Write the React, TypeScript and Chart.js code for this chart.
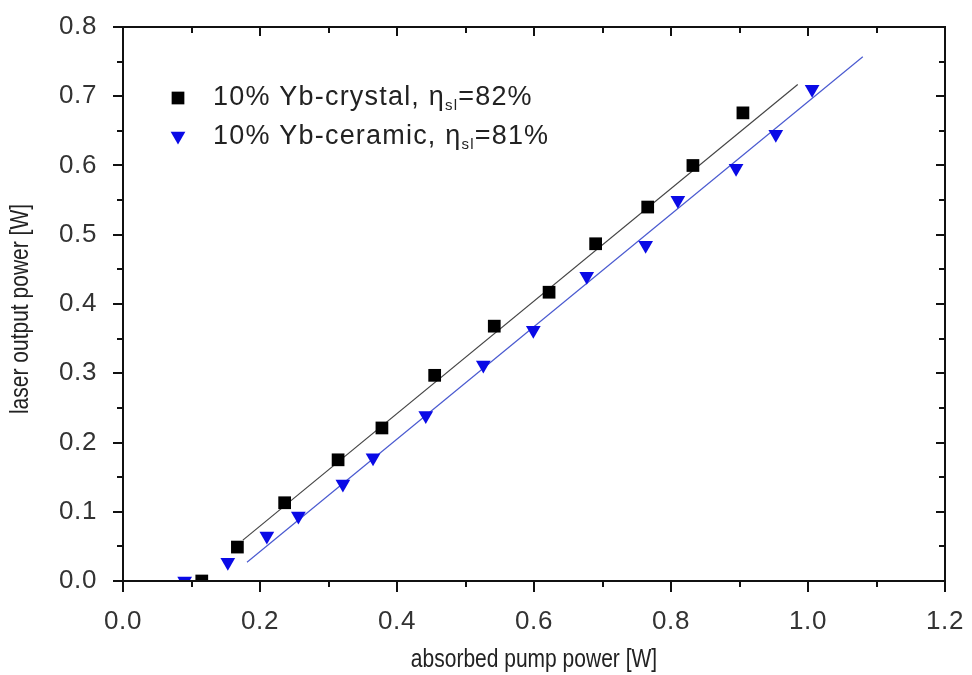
import React, { useEffect, useRef } from "react";
import { Chart, registerables } from "chart.js";

Chart.register(...registerables);

// ---- data ----
const crystalX = [0.115, 0.167, 0.236, 0.314, 0.378, 0.455, 0.542, 0.622, 0.69, 0.766, 0.832, 0.905];
const crystalY = [0.0, 0.049, 0.113, 0.175, 0.221, 0.297, 0.368, 0.417, 0.487, 0.54, 0.6, 0.676];

const ceramicX = [0.09, 0.153, 0.21, 0.256, 0.321, 0.365, 0.442, 0.526, 0.599, 0.677, 0.763, 0.81, 0.895, 0.953, 1.006];
const ceramicY = [0.0, 0.027, 0.065, 0.094, 0.14, 0.178, 0.239, 0.312, 0.362, 0.44, 0.485, 0.55, 0.596, 0.645, 0.71];

const crystalFitX = [0.175, 0.985];
const crystalFitY = [0.059, 0.717];
const ceramicFitX = [0.181, 1.08];
const ceramicFitY = [0.027, 0.757];

const crystalLabel = ["10% Yb-crystal, η", "sl", "=82%"];
const ceramicLabel = ["10% Yb-ceramic, η", "sl", "=81%"];

const xTitle = "absorbed pump power [W]";
const yTitle = "laser output power [W]";

const xMin = 0, xMax = 1.2, xMajor = 0.2, xMinor = 0.1;
const yMin = 0, yMax = 0.8, yMajor = 0.1, yMinor = 0.05;

function zip(xs: number[], ys: number[]) {
  return xs.map((x, i) => ({ x, y: ys[i] }));
}

const TICK_FONT = "'Liberation Sans', Arial, sans-serif";

const spacingPlugin = {
  id: "spacing",
  beforeDraw(chart: any) {
    (chart.ctx as any).letterSpacing = "0.6px";
  },
};

const framePlugin = {
  id: "frame",
  afterDatasetsDraw(chart: any) {
    const { ctx, chartArea: a, scales } = chart;
    const xs = scales.x, ys = scales.y;
    ctx.save();
    ctx.strokeStyle = "#111";
    ctx.lineWidth = 2;
    ctx.strokeRect(a.left, a.top, a.right - a.left, a.bottom - a.top);
    ctx.beginPath();
    const nx = Math.round((xMax - xMin) / xMinor);
    const ratioX = Math.round(xMajor / xMinor);
    for (let i = 0; i <= nx; i++) {
      const v = xMin + i * xMinor;
      const px = Math.round(xs.getPixelForValue(v));
      const major = i % ratioX === 0;
      const out = major ? 11 : 6;
      const inn = major ? 9 : 6;
      ctx.moveTo(px, a.bottom);
      ctx.lineTo(px, a.bottom + out);
      ctx.moveTo(px, a.top);
      ctx.lineTo(px, a.top + inn);
    }
    const ny = Math.round((yMax - yMin) / yMinor);
    const ratioY = Math.round(yMajor / yMinor);
    for (let i = 0; i <= ny; i++) {
      const v = yMin + i * yMinor;
      const py = Math.round(ys.getPixelForValue(v));
      const major = i % ratioY === 0;
      const out = major ? 10 : 6;
      const inn = major ? 9 : 6;
      ctx.moveTo(a.left, py);
      ctx.lineTo(a.left - out, py);
      ctx.moveTo(a.right, py);
      ctx.lineTo(a.right - inn, py);
    }
    ctx.stroke();
    ctx.restore();
  },
};

const titlePlugin = {
  id: "axisTitles",
  afterDraw(chart: any, _args: any, opts: any) {
    const { ctx, chartArea: a } = chart;
    ctx.save();
    (ctx as any).letterSpacing = "0px";
    ctx.fillStyle = "#222";
    ctx.font = `${opts.size}px ${TICK_FONT}`;
    ctx.textAlign = "center";
    ctx.textBaseline = "middle";
    ctx.save();
    ctx.translate((a.left + a.right) / 2, a.bottom + opts.xOffset);
    ctx.scale(opts.squeeze, 1);
    ctx.fillText(opts.x, 0, 0);
    ctx.restore();
    ctx.save();
    ctx.translate(opts.yPos, (a.top + a.bottom) / 2 + 5);
    ctx.rotate(-Math.PI / 2);
    ctx.scale(opts.squeeze, 1);
    ctx.fillText(opts.y, 0, 0);
    ctx.restore();
    ctx.restore();
  },
};

function drawMarker(ctx: CanvasRenderingContext2D, style: string, x: number, y: number, r: number, color: string) {
  ctx.fillStyle = color;
  ctx.beginPath();
  if (style === "rect") {
    const s = Math.SQRT1_2 * r;
    ctx.rect(x - s, y - s, 2 * s, 2 * s);
  } else {
    ctx.moveTo(x, y + r);
    ctx.lineTo(x - r * Math.sin(Math.PI / 3), y - r / 2);
    ctx.lineTo(x + r * Math.sin(Math.PI / 3), y - r / 2);
    ctx.closePath();
  }
  ctx.fill();
}

const legendPlugin = {
  id: "richLegend",
  afterDraw(chart: any, _args: any, opts: any) {
    const { ctx, chartArea: a } = chart;
    const items = opts.items || [];
    ctx.save();
    (ctx as any).letterSpacing = opts.letterSpacing;
    items.forEach((it: any, i: number) => {
      const y = a.top + opts.top + i * opts.spacing;
      const mx = a.left + opts.left;
      drawMarker(ctx, it.style, mx, y + (it.style === "rect" ? 0 : -1), it.radius, it.color);
      let tx = mx + opts.textOffset;
      ctx.fillStyle = "#222";
      ctx.textBaseline = "middle";
      ctx.textAlign = "left";
      ctx.font = `${opts.fontSize}px ${TICK_FONT}`;
      ctx.fillText(it.parts[0], tx, y);
      tx += ctx.measureText(it.parts[0]).width;
      ctx.font = `${opts.subSize}px ${TICK_FONT}`;
      ctx.fillText(it.parts[1], tx, y + 8);
      tx += ctx.measureText(it.parts[1]).width;
      ctx.font = `${opts.fontSize}px ${TICK_FONT}`;
      ctx.fillText(it.parts[2], tx, y);
    });
    ctx.restore();
  },
};

export default function App() {
  const ref = useRef<HTMLCanvasElement | null>(null);

  useEffect(() => {
    document.body.style.margin = "0";
    const canvas = ref.current;
    if (!canvas) return;
    const chart = new Chart(canvas, {
      type: "scatter",
      data: {
        datasets: [
          {
            label: crystalLabel.join(""),
            data: zip(crystalX, crystalY),
            pointStyle: "rect",
            pointRadius: 9,
            pointHoverRadius: 9,
            backgroundColor: "#000000",
            borderColor: "#000000",
            borderWidth: 0,
            showLine: false,
            clip: 0,
            order: 0,
          } as any,
          {
            label: ceramicLabel.join(""),
            data: zip(ceramicX, ceramicY),
            pointStyle: "triangle",
            rotation: 180,
            pointRadius: 8.5,
            pointHoverRadius: 8.5,
            backgroundColor: "#0a0ae6",
            borderColor: "#0a0ae6",
            borderWidth: 0,
            showLine: false,
            clip: 0,
            order: 0,
          } as any,
          {
            label: "crystal fit",
            data: zip(crystalFitX, crystalFitY),
            showLine: true,
            pointRadius: 0,
            borderColor: "#444444",
            borderWidth: 1.2,
            order: 1,
          } as any,
          {
            label: "ceramic fit",
            data: zip(ceramicFitX, ceramicFitY),
            showLine: true,
            pointRadius: 0,
            borderColor: "#4a5ad0",
            borderWidth: 1.2,
            order: 1,
          } as any,
        ],
      },
      options: {
        responsive: false,
        animation: false,
        events: [],
        layout: { padding: 0 },
        plugins: {
          legend: { display: false },
          tooltip: { enabled: false },
          axisTitles: {
            x: xTitle,
            y: yTitle,
            size: 25,
            squeeze: 0.84,
            xOffset: 79,
            yPos: 21,
          },
          richLegend: {
            left: 55,
            top: 71,
            spacing: 39,
            textOffset: 35,
            fontSize: 27,
            subSize: 15,
            letterSpacing: "1.2px",
            items: [
              { parts: crystalLabel, style: "rect", radius: 9, color: "#000000" },
              { parts: ceramicLabel, style: "triangle", radius: 8.5, color: "#0a0ae6" },
            ],
          },
        } as any,
        scales: {
          x: {
            type: "linear",
            min: xMin,
            max: xMax,
            grid: { display: false },
            border: { display: false },
            ticks: {
              stepSize: xMajor,
              padding: 17,
              color: "#333",
              font: { family: TICK_FONT, size: 26 },
              callback: (v: any) => Number(v).toFixed(1),
            },
            title: { display: false },
            afterFit: (s: any) => {
              s.height = 94;
              s.paddingLeft = 0;
              s.paddingRight = 27;
            },
          },
          y: {
            type: "linear",
            min: yMin,
            max: yMax,
            grid: { display: false },
            border: { display: false },
            ticks: {
              stepSize: yMajor,
              padding: 18,
              color: "#333",
              font: { family: TICK_FONT, size: 26 },
              callback: (v: any) => Number(v).toFixed(1),
            },
            title: { display: false },
            afterFit: (s: any) => {
              s.width = 123;
              s.paddingTop = 27;
              s.paddingBottom = 0;
            },
          },
        },
      },
      plugins: [spacingPlugin, framePlugin, titlePlugin, legendPlugin],
    });
    return () => chart.destroy();
  }, []);

  return (
    <div style={{ position: "absolute", left: 0, top: 0, width: 972, height: 675, background: "#fff" }}>
      <canvas ref={ref} width={972} height={675} style={{ width: 972, height: 675 }} />
    </div>
  );
}
